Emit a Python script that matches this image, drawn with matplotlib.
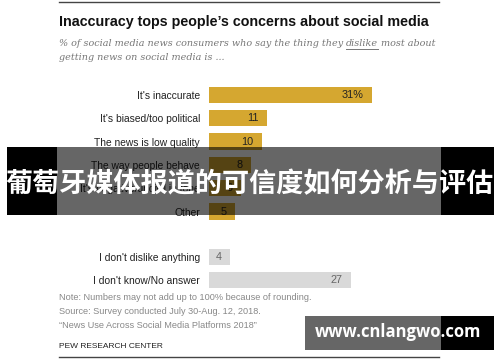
import matplotlib
matplotlib.use("Agg")
from matplotlib import pyplot as plt
from matplotlib.patches import Rectangle
import numpy as np

W, H = 500, 362

labels = ["It's inaccurate", "It's biased/too political", "The news is low quality",
          "The way people behave", "It's negative/uncivil in tone", "Other",
          "I don't dislike anything", "I don't know/No answer"]
values = [31, 11, 10, 8, 6, 5, 4, 27]
value_text = ["31%", "11", "10", "8", "6", "5", "4", "27"]
is_gold = [True, True, True, True, True, True, False, False]

title = "Inaccuracy tops people\u2019s concerns about social media"
sub1a = "% of social media news consumers who say the thing they "
sub1b = "dislike"
sub1c = " most about"
sub2 = "getting news on social media is ..."
notes = ["Note: Numbers may not add up to 100% because of rounding.",
         "Source: Survey conducted July 30-Aug. 12, 2018.",
         "\u201cNews Use Across Social Media Platforms 2018\u201d"]
source = "PEW RESEARCH CENTER"
banner = "葡萄牙媒体报道的可信度如何分析与评估"
watermark = "www.cnlangwo.com"

gold = "#D5A730"
grey = "#D9D9D9"

fig = plt.figure(figsize=(W / 100, H / 100), dpi=100)
fig.patch.set_facecolor("white")

def px(x, y):
    return x / W, 1 - y / H

# row positions: two groups separated by a gap
ypos = np.array([0, 1, 2, 3, 4, 5, 6.93, 7.93])
unit = (280 - 95) / 7.93
top_px = 95 - 0.5 * unit
bot_px = 280 + 0.5 * unit
xscale = 5.26
ax = fig.add_axes([209 / W, 1 - bot_px / H, 40 * xscale / W, (bot_px - top_px) / H])
ax.set_xlim(0, 40)
ax.set_ylim(7.93 + 0.5, -0.5)
colors = [gold if g else grey for g in is_gold]
ax.barh(ypos, values, height=0.7, color=colors)
ax.set_yticks(ypos)
ax.set_yticklabels(labels, fontsize=7.4, color="#222222", family="Liberation Sans")
ax.tick_params(axis="y", length=0, pad=6.5)
ax.set_xticks([])
for s in ax.spines.values():
    s.set_visible(False)
ax.patch.set_alpha(0)
for y, v, t, g in zip(ypos, values, value_text, is_gold):
    ax.annotate(t, (v, y), xytext=(-6, 0), textcoords="offset points",
                ha="right", va="center", fontsize=7.8,
                color="#222222" if g else "#666666", family="Liberation Sans")

# rules
fig.add_artist(plt.Line2D([59 / W, 439 / W], [1 - 2 / H] * 2, color="#444444", lw=1))
fig.add_artist(plt.Line2D([59 / W, 439 / W], [1 - 357 / H] * 2, color="#444444", lw=1))

fig.text(*px(59, 22), title, fontsize=10.3, weight="bold", family="Liberation Sans",
         va="center", ha="left", color="#111111")
sub_kw = dict(fontsize=6.9, style="italic", family="DejaVu Serif",
              va="center", ha="left", color="#777777")
t1 = fig.text(*px(59, 43), sub1a, **sub_kw)
fig.canvas.draw()
r = fig.canvas.get_renderer()
bb = t1.get_window_extent(r)
t2 = fig.text(bb.x1 / W, 1 - 43 / H, sub1b, **sub_kw)
bb2 = t2.get_window_extent(r)
fig.add_artist(plt.Line2D([bb2.x0 / W, bb2.x1 / W], [1 - 48.5 / H] * 2, color="#777777", lw=0.7))
fig.text(bb2.x1 / W, 1 - 43 / H, sub1c, **sub_kw)
fig.text(*px(59, 58), sub2, **sub_kw)

for i, n in enumerate(notes):
    fig.text(*px(59, 298 + 13.5 * i), n, fontsize=6.6, family="Liberation Sans",
             va="center", ha="left", color="#888888")
fig.text(*px(59, 346), source, fontsize=6, family="Liberation Sans",
         va="center", ha="left", color="#222222")

# overlay banner
def rect(x0, y0, x1, y1, **kw):
    fig.add_artist(Rectangle((x0 / W, 1 - y1 / H), (x1 - x0) / W, (y1 - y0) / H,
                             transform=fig.transFigure, lw=0, **kw))

rect(7, 147, 57, 215, color="black")
rect(441, 147, 494, 215, color="black")
rect(57, 147, 441, 215, color="black", alpha=0.6)
fig.text(*px(250, 184), banner, fontsize=19.5, weight="bold", color="white",
         family=["Noto Sans CJK SC", "DejaVu Sans"], ha="center", va="center")

rect(305, 316, 441, 350, color="black", alpha=0.6)
rect(441, 316, 494, 350, color="black")
fig.text(*px(398, 332), watermark, fontsize=12, weight="bold", color="white",
         family="Open Sans", ha="center", va="center")

fig.savefig("out.png", dpi=100)
